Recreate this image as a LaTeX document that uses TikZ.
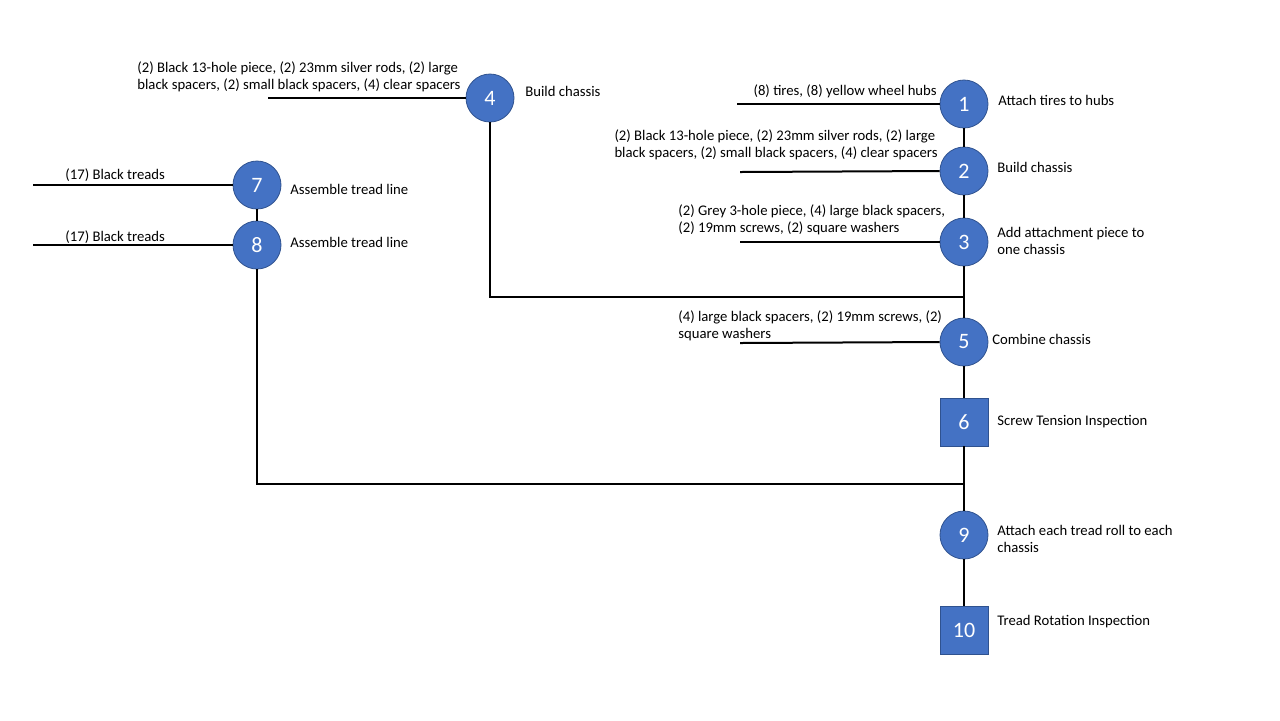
\documentclass[tikz,border=0pt]{standalone}
\usepackage{fontspec}
\setmainfont{Carlito}
\definecolor{stepblue}{HTML}{4472C4}
\definecolor{stepedge}{HTML}{2F528F}
\begin{document}
\begin{tikzpicture}[x=0.5pt,y=-0.5pt,
  opstep/.style={circle,fill=stepblue,draw=stepedge,line width=0.4pt,minimum size=24pt,inner sep=0pt,text=white,font=\fontsize{11}{12}\selectfont},
  inspstep/.style={rectangle,fill=stepblue,draw=stepedge,line width=0.4pt,minimum size=24pt,inner sep=0pt,text=white,font=\fontsize{11}{12}\selectfont},
  lbl/.style={inner sep=0pt,align=left,font=\fontsize{7.35}{8.6}\selectfont},
  wire/.style={line width=1pt,black}]
\useasboundingbox (0,0) rectangle (1280,720);
% input line free ends and junctions
\coordinate (i1) at (737,104);
\coordinate (i2) at (740,172);
\coordinate (i3) at (740,242);
\coordinate (i5) at (740,343);
\coordinate (i4) at (268,98);
\coordinate (i7) at (33,185);
\coordinate (i8) at (33,245);
\coordinate (j1) at (964,297);
\coordinate (j2) at (964,484);
\node[opstep] (n1) at (964,104) {1};
\node[opstep] (n2) at (964,171) {2};
\node[opstep] (n3) at (964,242) {3};
\node[opstep] (n4) at (490,98) {4};
\node[opstep] (n5) at (964,342) {5};
\node[inspstep] (n6) at (964,422) {6};
\node[opstep] (n7) at (257,185) {7};
\node[opstep] (n8) at (257,245) {8};
\node[opstep] (n9) at (964,535) {9};
\node[inspstep] (n10) at (964,630) {10};
\draw[wire] (i1) -- (n1.west);
\draw[wire] (i2) -- (n2.west);
\draw[wire] (i3) -- (n3.west);
\draw[wire] (i5) -- (n5.west);
\draw[wire] (i4) -- (n4.west);
\draw[wire] (i7) -- (n7.west);
\draw[wire] (i8) -- (n8.west);
\draw[wire] (n1.south) -- (n2.north);
\draw[wire] (n2.south) -- (n3.north);
\draw[wire] (n3.south) -- (j1) -- (n5.north);
\draw[wire] (n4.south) |- (j1);
\draw[wire] (n5.south) -- (n6.north);
\draw[wire] (n6.south) -- (j2) -- (n9.north);
\draw[wire] (n7.south) -- (n8.north);
\draw[wire] (n8.south) |- (j2);
\draw[wire] (n9.south) -- (n10.north);
% input labels
\node[lbl,anchor=east] (t1) at (937,91) {(8) tires, (8) yellow wheel hubs};
\node[lbl,anchor=east] (t2) at (938,145) {(2) Black 13-hole piece, (2) 23mm silver rods, (2) large\\black spacers, (2) small black spacers, (4) clear spacers};
\node[lbl,anchor=west] (t3) at (678,220) {(2) Grey 3-hole piece, (4) large black spacers,\\(2) 19mm screws, (2) square washers};
\node[lbl,anchor=west] (t5) at (678,326) {(4) large black spacers, (2) 19mm screws, (2)\\square washers};
\node[lbl,anchor=west] (t4) at (137,77) {(2) Black 13-hole piece, (2) 23mm silver rods, (2) large\\black spacers, (2) small black spacers, (4) clear spacers};
\node[lbl,anchor=west] (t7) at (65,175) {(17) Black treads};
\node[lbl,anchor=west] (t8) at (65,237) {(17) Black treads};
% step labels
\node[lbl,anchor=west] (s1) at (998,100) {Attach tires to hubs};
\node[lbl,anchor=west] (s2) at (997,167) {Build chassis};
\node[lbl,anchor=west] (s3) at (997,241) {Add attachment piece to\\one chassis};
\node[lbl,anchor=west] (s4) at (525,91) {Build chassis};
\node[lbl,anchor=west] (s5) at (992,339) {Combine chassis};
\node[lbl,anchor=west] (s6) at (997,422) {Screw Tension Inspection};
\node[lbl,anchor=west] (s7) at (290,189) {Assemble tread line};
\node[lbl,anchor=west] (s8) at (290,242) {Assemble tread line};
\node[lbl,anchor=west] (s9) at (997,539) {Attach each tread roll to each\\chassis};
\node[lbl,anchor=west] (s10) at (997,622) {Tread Rotation Inspection};
\end{tikzpicture}
\end{document}
